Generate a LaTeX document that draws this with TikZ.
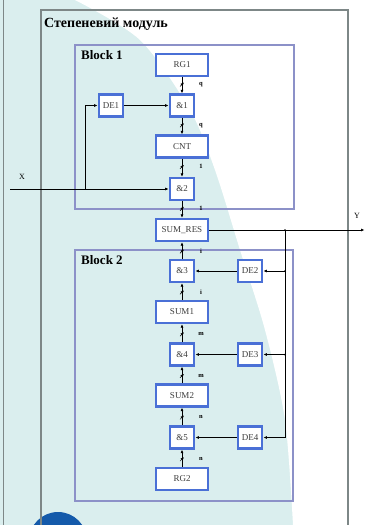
\documentclass[tikz,border=0pt]{standalone}
\usepackage{fontspec}
\setmainfont{Liberation Serif}
\usetikzlibrary{arrows.meta}
\definecolor{boxblue}{RGB}{74,112,214}
\definecolor{frameblue}{RGB}{140,145,200}
\definecolor{outergray}{RGB}{125,135,135}
\definecolor{bgteal}{RGB}{218,238,238}
\definecolor{circblue}{RGB}{20,90,170}
\definecolor{txtgray}{RGB}{60,60,60}
\tikzset{
  unit/.style={draw=boxblue, line width=2.3pt, fill=white, inner sep=0pt,
    minimum height=22pt, text=txtgray, font=\fontsize{9}{10}\selectfont},
  wideunit/.style={unit, minimum width=51.5pt},
  smallunit/.style={unit, minimum width=24.5pt},
  frame/.style={draw=frameblue, line width=1.3pt},
  outer/.style={draw=outergray, line width=1.2pt},
  conn/.style={draw=black, line width=0.7pt, -{Latex[length=3.5pt,width=3pt]}},
  title/.style={font=\bfseries\fontsize{13}{14}\selectfont, anchor=north west, inner sep=0pt},
  pics/busmark/.style={code={
    \draw[line width=0.5pt] (-2,2) -- (2,-2);
    \node[font=\bfseries\fontsize{6.5}{7}\selectfont, inner sep=0pt] at (19,0) {#1};
  }}
}
\begin{document}
\begin{tikzpicture}[x=1pt,y=-1pt]
\useasboundingbox (0,0) rectangle (365,525);
\begin{scope}
\clip (0,0) rectangle (365,525);
% background
\fill[bgteal] (0,0) rectangle (365,525);
\fill[white] plot[smooth] coordinates {(75,0) (140,40) (190,110) (215,170) (240,250) (265,330) (285,420) (293,525)} -- (365,525) -- (365,0) -- cycle;
\draw[outergray, line width=1pt] (3,0) -- (3,525);
\fill[circblue] (58,541) circle (29);
% outer box
\draw[outer] (41,10) rectangle (348,535);
\end{scope}
\node[font=\bfseries\fontsize{14}{15}\selectfont, anchor=west, inner sep=0pt] (ttl) at (44,24) {Степеневий модуль};
% block frames
\draw[frame] (75,45) rectangle (294,209);
\draw[frame] (75,250) rectangle (293,501);
\node[title] (b1) at (81,50) {Block 1};
\node[title] (b2) at (81,255) {Block 2};
% units
\node[wideunit] (RG1) at (182,65) {RG1};
\node[smallunit] (DE1) at (111,105.5) {DE1};
\node[smallunit] (A1) at (182,105.5) {\&1};
\node[wideunit] (CNT) at (182,146.5) {CNT};
\node[smallunit] (A2) at (182,189) {\&2};
\node[wideunit] (SR) at (182,230) {SUM\_RES};
\node[smallunit] (A3) at (182,271) {\&3};
\node[smallunit] (DE2) at (250,271) {DE2};
\node[wideunit] (S1) at (182,312) {SUM1};
\node[smallunit] (A4) at (182,354.5) {\&4};
\node[smallunit] (DE3) at (250,354.5) {DE3};
\node[wideunit] (S2) at (182,395.5) {SUM2};
\node[smallunit] (A5) at (182,437.5) {\&5};
\node[smallunit] (DE4) at (250,437.5) {DE4};
\node[wideunit] (RG2) at (182,479) {RG2};
% vertical buses
\draw[conn] (RG1) -- pic[pos=0.45]{busmark=q} (A1);
\draw[conn] (A1) -- pic[pos=0.45]{busmark=q} (CNT);
\draw[conn] (CNT) -- pic[pos=0.45]{busmark=1} (A2);
\draw[conn] (A2) -- pic[pos=0.45]{busmark=1} (SR);
\draw[conn] (A3) -- pic[pos=0.45]{busmark=i} (SR);
\draw[conn] (S1) -- pic[pos=0.45]{busmark=i} (A3);
\draw[conn] (A4) -- pic[pos=0.45]{busmark=m} (S1);
\draw[conn] (S2) -- pic[pos=0.45]{busmark=m} (A4);
\draw[conn] (A5) -- pic[pos=0.45]{busmark=n} (S2);
\draw[conn] (RG2) -- pic[pos=0.45]{busmark=n} (A5);
% X input
\coordinate (xin) at (10,189);
\coordinate (xj) at (85,189);
\node[font=\fontsize{8}{9}\selectfont, inner sep=0pt] (xl) at (22,177) {X};
\draw[conn] (xin) -- (xin -| A2.west);
\draw[conn] (xj) |- (DE1);
\draw[conn] (DE1) -- (A1);
% Y output
\coordinate (yout) at (364.5,230);
\coordinate (yj) at (285,230);
\node[font=\fontsize{8}{9}\selectfont, inner sep=0pt] (yl) at (357,216) {Y};
\draw[conn] (SR) -- (yout);
\draw[conn] (yj) |- (DE4);
\draw[conn] (yj |- DE2) -- (DE2);
\draw[conn] (yj |- DE3) -- (DE3);
\fill (yj) circle (1);
\fill (yj |- DE2) circle (1);
\fill (yj |- DE3) circle (1);
\draw[conn] (DE2) -- (A3);
\draw[conn] (DE3) -- (A4);
\draw[conn] (DE4) -- (A5);
\end{tikzpicture}
\end{document}
